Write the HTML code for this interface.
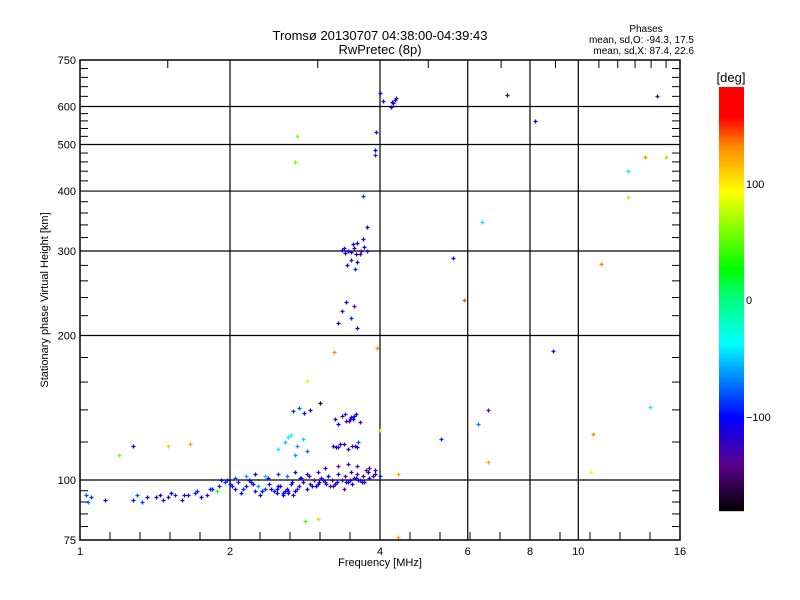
<!DOCTYPE html>
<html><head><meta charset="utf-8"><style>
body{margin:0;background:#fff;}
svg{display:block;font-family:"Liberation Sans",sans-serif;}
</style></head><body>
<svg id="chart" width="800" height="600" viewBox="0 0 800 600">
<rect width="800" height="600" fill="#fff"/>
<text x="380" y="40" font-size="13" text-anchor="middle">Tromsø 20130707 04:38:00-04:39:43</text>
<text x="380" y="54" font-size="13" text-anchor="middle">RwPretec (8p)</text>
<text x="646" y="32" font-size="10" text-anchor="middle">Phases</text>
<text x="694" y="43" font-size="10" text-anchor="end">mean, sd,O: -94.3, 17.5</text>
<text x="694" y="54" font-size="10" text-anchor="end">mean, sd,X:  87.4, 22.6</text>
<g id="grid"></g><g id="pts"></g><g id="axes"></g>
<text x="380" y="566" font-size="11" text-anchor="middle">Frequency [MHz]</text>
<text transform="translate(48,300) rotate(-90)" font-size="11" text-anchor="middle">Stationary phase Virtual Height [km]</text>
<g id="cbar"></g>
<text x="731" y="82" font-size="13" text-anchor="middle">[deg]</text>
<text x="746" y="188" font-size="11">100</text>
<text x="746" y="304" font-size="11">0</text>
<text x="746" y="421" font-size="11">−100</text>
</svg>
<script>
const xTicks=[1,2,4,6,8,10,16];
const yTicks=[75,100,200,300,400,500,600,750];
const freqs=[1.03,1.05,1.04,1.12,1.28,1.3,1.33,1.36,1.45,1.47,1.5,1.55,1.6,1.65,1.7,1.75,1.8,1.84,1.88,1.9,1.95,1.97,2.0,2.05,2.1,2.15,2.2,2.25,2.3,2.35,2.4,2.45,2.5,2.55,2.6,2.65,2.7,2.75,2.8,2.85,2.9,2.95,3.0,3.05,3.1,3.15,3.2,3.25,3.3,3.35,3.4,3.45,3.5,3.55,3.6,3.65,3.7,3.75,3.8,3.9,4.0,
2.05,2.15,2.25,2.35,2.5,2.6,2.7,2.85,3.0,3.1,3.3,3.45,3.6,3.8,3.9,2.02,2.12,2.22,2.32,2.42,2.52,2.62,2.72,2.92,3.02,3.12,3.22,3.42,3.52,3.62,3.72,
2.08,2.18,2.28,2.38,2.48,2.58,2.68,2.78,2.88,2.98,3.08,3.18,3.28,3.38,3.48,3.58,3.68,3.78,3.88,1.42,1.52,1.62,1.72,1.82,1.92,2.55,2.62,2.48,2.76,2.66,
3.22,3.3,3.38,3.45,3.52,3.6,3.25,3.35,3.42,3.5,3.58,3.65,3.3,3.4,3.48,3.55,3.27,3.33,3.46,3.53,3.62,3.56,
2.5,2.58,2.65,2.72,2.8,2.85,2.68,2.75,2.82,2.9,2.62,2.7,
3.5,3.55,3.6,3.65,3.7,3.76,3.36,3.38,3.43,3.5,3.57,3.6,3.3,3.35,3.42,3.5,3.55,3.6,3.7,3.76,3.53,3.58,3.66,3.72,3.4,3.45,
4.0,4.05,4.2,4.25,4.3,3.93,3.9,3.9,4.22,4.28,
2.72,2.7,3.24,3.95,2.86,3.03,4.0,2.83,3.0,4.35,4.35,
7.2,8.2,6.4,5.6,5.9,8.9,11.1,12.6,12.6,13.6,15,14.4,13.9,10.7,10.6,6.6,6.3,5.3,6.6,1.2,1.28,1.5,1.66];
const heights=[93,92,90,91,91,93,90,92,93,91,92,93,91,93,94,92,93,96,95,97,99,100,98,96,94,97,99,95,93,96,98,95,97,94,96,98,95,97,99,96,98,100,98,101,99,102,100,98,103,100,102,99,104,101,103,100,102,105,101,103,102,
101,102,103,102,103,102,104,103,104,106,107,108,107,106,105,97,96,98,95,96,97,95,96,97,99,98,97,99,98,100,99,
99,100,97,101,94,95,93,101,102,97,100,97,99,96,100,101,99,104,102,92,94,93,95,96,100,93,94,96,101,99,
118,117,119,116,118,117,134,136,133,135,137,132,131,137,134,136,117,119,133,134,120,118,
116,120,124,118,122,115,139,141,138,140,123,113,
298,305,312,296,318,300,302,304,280,288,275,285,212,225,235,218,230,207,390,337,310,296,300,306,297,300,
640,615,600,610,625,530,475,488,612,620,
520,460,185,188,161,145,127,82,83,103,76,
635,560,345,290,237,186,282,388,440,470,470,630,142,125,104,140,131,122,109,113,118,118,119];
const phases=[-80,-90,-70,-105,-95,-80,-85,-100,-110,-125,-120,-90,-110,-95,-90,-100,-130,-100,40,-90,-85,-95,-100,-110,-100,-95,-100,-110,-100,-90,-105,-95,-110,-100,-120,-95,-100,-130,-110,-100,-120,-130,-110,-120,-140,-100,-120,-130,-110,-120,-140,-110,-120,-100,-130,-110,-120,-140,-100,-110,-90,
-80,-60,-100,-50,-90,-70,-110,-130,-120,-130,-140,-130,-120,-140,-120,-100,-90,-110,-95,-105,-100,-115,-90,-100,-110,-95,-120,-105,-100,-110,-95,
-90,-100,-60,-110,-100,-95,-110,-100,-120,-100,-110,-130,-100,-140,-110,-120,-130,-100,-140,-110,-100,-120,-95,-90,-100,-100,-110,-95,-100,-105,
-130,-140,-120,-110,-130,-100,-120,-140,-130,-110,-120,-140,-100,-90,-130,-110,-100,-110,-120,-100,-80,-130,
-40,-50,-35,-60,-45,-70,-90,-80,-100,-110,-40,-60,
-110,-120,-100,-130,-110,-95,-100,-120,-110,-130,-90,-100,-110,-120,-100,-90,-130,-110,-85,-110,-100,-110,-120,-100,-110,-120,
-110,-120,-100,-140,-150,-110,-90,-100,-100,-110,
60,60,130,130,80,-170,80,50,70,120,120,
-150,-100,-40,-100,140,-100,130,110,-40,130,60,-150,-30,130,90,-140,-70,-90,120,60,-110,110,120];

const X0=80,X1=680,Y0=540,Y1=60;
const xs=f=>X0+(X1-X0)*Math.log(f)/Math.log(16);
const ys=h=>Y0-(Y0-Y1)*Math.log(h/75)/Math.log(10);
const NS="http://www.w3.org/2000/svg";
function mk(tag,attrs,parent){const e=document.createElementNS(NS,tag);for(const k in attrs)e.setAttribute(k,attrs[k]);parent.appendChild(e);return e;}
const stops=[[-180,0,0,0],[-140,90,0,140],[-100,0,0,255],[-37,0,255,255],[0,0,255,128],[27,0,255,0],[92,255,255,0],[130,255,140,0],[155,255,0,0],[180,255,0,0]];
function col(p){for(let i=0;i<stops.length-1;i++){const a=stops[i],b=stops[i+1];if(p<=b[0]){const t=Math.max(0,(p-a[0])/(b[0]-a[0]));return `rgb(${Math.round(a[1]+t*(b[1]-a[1]))},${Math.round(a[2]+t*(b[2]-a[2]))},${Math.round(a[3]+t*(b[3]-a[3]))})`;}}return 'rgb(255,0,0)';}
const grid=document.getElementById('grid'),axes=document.getElementById('axes'),pts=document.getElementById('pts'),cbar=document.getElementById('cbar');
xTicks.forEach(v=>{const x=xs(v);
 if(v>1&&v<16){const l=mk('line',{x1:x,x2:x,y1:Y1,y2:Y0,stroke:'#000','stroke-width':1.2},grid);
 
 }
 const t=mk('text',{x:x,y:Y0+15,'font-size':11,'text-anchor':'middle'},axes);t.textContent=v;
 
 });
yTicks.forEach(v=>{const y=ys(v);
 if(v>75&&v<750){const l=mk('line',{x1:X0,x2:X1,y1:y,y2:y,stroke:'#000','stroke-width':1.2},grid);
 
 }
 const t=mk('text',{x:X0-4,y:y+4,'font-size':11,'text-anchor':'end'},axes);t.textContent=v;
 
 });
for(let px=X0+30;px<X1;px+=30){mk('line',{x1:px,x2:px,y1:Y0,y2:Y0-8,stroke:'#000'},axes);}
[1.5,3,5,7,9,11,12,13,14,15].forEach(v=>{const x=xs(v);mk('line',{x1:x,x2:x,y1:Y1,y2:Y1+8,stroke:'#000'},axes);});
const yMinor=[80,85,90,95,120,140,160,180,220,240,260,280,320,340,360,380,420,440,460,480,520,540,560,580,630,660,690,720];
yMinor.forEach(v=>{const y=ys(v);mk('line',{x1:X0,x2:X0+8,y1:y,y2:y,stroke:'#000'},axes);mk('line',{x1:X1,x2:X1-8,y1:y,y2:y,stroke:'#000'},axes);});
const frame=mk('rect',{x:X0,y:Y1,width:X1-X0,height:Y0-Y1,fill:'none',stroke:'#000','stroke-width':1.5},axes);


freqs.forEach((f,i)=>{const x=Math.round(xs(f))+0.5,y=Math.round(ys(heights[i]))+0.5;const c=col(phases[i]);
 const p=mk('path',{d:`M${x-2},${y}h4M${x},${y-2}v4`,stroke:c,'stroke-width':1.3},pts);
 
 });
for(let y=87;y<511;y+=2){const p=180-(y-87)/424*360;mk('rect',{x:719,y:y,width:25,height:2.2,fill:col(p)},cbar);}


</script>
</body></html>
